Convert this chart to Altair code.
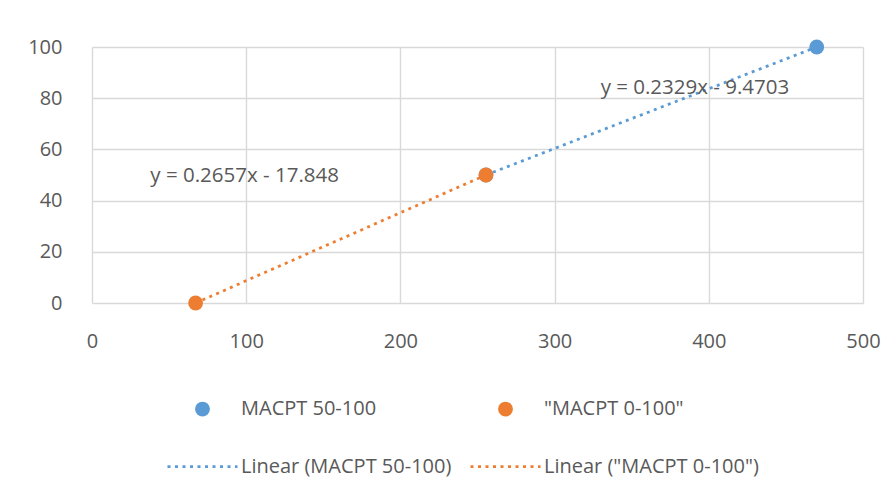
import altair as alt
import pandas as pd
import numpy as np

# ---- data ----
series_names = ["MACPT 50-100", '"MACPT 0-100"']
blue_x = [255.5, 470.0]
blue_y = [50.0, 100.0]
orange_x = [67.2, 255.5]
orange_y = [0.0, 50.0]
trend_names = ["Linear (MACPT 50-100)", 'Linear ("MACPT 0-100")']
eq_labels = ["y = 0.2329x - 9.4703", "y = 0.2657x - 17.848"]
eq_x = [391.0, 99.0]
eq_y = [84.0, 49.6]
x_ticks = [0, 100, 200, 300, 400, 500]
y_ticks = [0, 20, 40, 60, 80, 100]

BLUE = "#5B9BD5"
ORANGE = "#ED7D31"
TXT = "#595959"
FONT = "Open Sans"

pts = pd.DataFrame({
    "x": blue_x + orange_x,
    "y": blue_y + orange_y,
    "series": [series_names[0]] * len(blue_x) + [series_names[1]] * len(orange_x),
})

rows = []
for name, xs, ys in [(trend_names[0], blue_x, blue_y), (trend_names[1], orange_x, orange_y)]:
    m, b = np.polyfit(xs, ys, 1)
    for xv in (min(xs), max(xs)):
        rows.append({"x": xv, "y": m * xv + b, "series": name})
trend = pd.DataFrame(rows)

eqs = pd.DataFrame({"x": eq_x, "y": eq_y, "label": eq_labels})

domain = series_names + trend_names
fill_scale = alt.Scale(domain=domain, range=[BLUE, ORANGE, BLUE, ORANGE])
stroke_scale = alt.Scale(domain=domain, range=["transparent", "transparent", BLUE, ORANGE])
shape_scale = alt.Scale(domain=domain, range=["circle", "circle", "stroke", "stroke"])
size_scale = alt.Scale(type="ordinal", domain=domain, range=[220, 220, 4900, 4900])

xenc = alt.X("x:Q", scale=alt.Scale(domain=[0, 500], nice=False),
             axis=alt.Axis(values=x_ticks, title=None, labelPadding=28, labelFlush=False))
yenc = alt.Y("y:Q", scale=alt.Scale(domain=[0, 100], nice=False),
             axis=alt.Axis(values=y_ticks, title=None, labelPadding=30))

lines = alt.Chart(trend).mark_line(strokeDash=[3, 4.5], strokeWidth=2.75).encode(
    x=xenc, y=yenc,
    stroke=alt.Stroke("series:N", scale=stroke_scale, title=None),
    detail="series:N",
)

points = alt.Chart(pts).mark_point(filled=True, opacity=1).encode(
    x=xenc, y=yenc,
    fill=alt.Fill("series:N", scale=fill_scale, title=None),
    stroke=alt.Stroke("series:N", scale=stroke_scale, title=None),
    shape=alt.Shape("series:N", scale=shape_scale, title=None),
    size=alt.Size("series:N", scale=size_scale, title=None),
)

texts = alt.Chart(eqs).mark_text(fontSize=20.5, font=FONT, color=TXT, align="center", baseline="middle").encode(
    x=xenc, y=yenc, text="label:N"
)

chart = alt.layer(lines, points, texts).properties(
    width=771, height=256,
    autosize=alt.AutoSizeParams(type="none"),
    padding={"left": 84, "top": 39, "right": 25, "bottom": 190},
).configure_view(stroke=None).configure_axis(
    grid=True, gridColor="#D9D9D9", gridWidth=1.4, domain=False, ticks=False,
    labelFont=FONT, labelFontSize=20, labelColor=TXT,
).configure_legend(
    orient="none", legendX=74, legendY=352, columns=2, direction="horizontal",
    labelFont=FONT, labelFontSize=20, labelColor=TXT, labelLimit=400,
    symbolDash=[3, 4.5], symbolStrokeWidth=2.75, labelOffset=2,
    columnPadding=13, rowPadding=8, padding=0,
)

chart.save("out.html", embed_options={"renderer": "svg", "actions": False})
